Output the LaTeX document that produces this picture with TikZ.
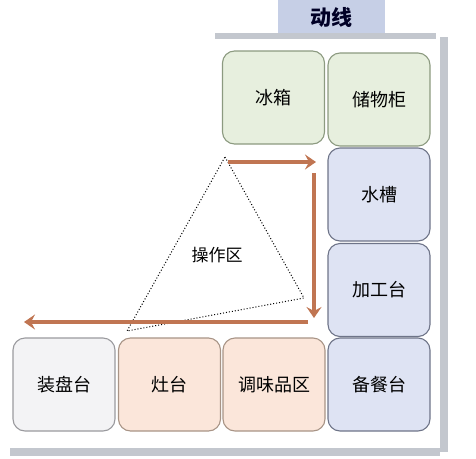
\documentclass[tikz,border=0pt]{standalone}
\usepackage{fontspec}
\newfontfamily\cjk{Noto Sans CJK SC}
\usetikzlibrary{arrows.meta}
\definecolor{greenfill}{HTML}{E7EFDE}
\definecolor{greenline}{HTML}{8C9A80}
\definecolor{bluefill}{HTML}{DEE3F3}
\definecolor{blueline}{HTML}{6E7488}
\definecolor{greyfill}{HTML}{F3F3F5}
\definecolor{greyline}{HTML}{9A9A9E}
\definecolor{peachfill}{HTML}{FBE6DA}
\definecolor{peachline}{HTML}{A89486}
\definecolor{titlefill}{HTML}{C6CFE6}
\definecolor{barcol}{HTML}{C3C7CE}
\definecolor{flowcol}{HTML}{C07552}
\tikzset{
  area/.style={rounded corners=12pt, minimum width=102pt, minimum height=93pt,
    line width=1.1pt, font=\cjk\fontsize{18}{18}\selectfont, inner sep=0pt},
  flow/.style={flowcol, line width=3.5pt, -{Stealth[length=11pt,width=15pt,inset=4pt]}}
}
\begin{document}
\begin{tikzpicture}[x=1pt, y=-1pt]
    \useasboundingbox (0,0) rectangle (476,458);
    % Title and frame
    \fill[titlefill] (278,0) rectangle (385,33);
    \node[font=\cjk\bfseries\fontsize{21}{21}\selectfont, text=black!75!blue!60!black] (title) at (331.5,17) {动线};
    \fill[barcol] (215,33) rectangle (436,39);
    \fill[barcol] (440,37) rectangle (448,452);
    \fill[barcol] (10,448) rectangle (440,456);

    % Areas
    \node[area, fill=greenfill, draw=greenline] (fridge) at (273.5,97.5) {冰箱};
    \node[area, fill=greenfill, draw=greenline] (cabinet) at (379,99.5) {储物柜};
    \node[area, fill=bluefill, draw=blueline] (sink) at (379,194.5) {水槽};
    \node[area, fill=bluefill, draw=blueline] (prep) at (379,290) {加工台};
    \node[area, fill=bluefill, draw=blueline] (serve) at (379,384.5) {备餐台};
    \node[area, fill=greyfill, draw=greyline] (plate) at (64,384.5) {装盘台};
    \node[area, fill=peachfill, draw=peachline] (stove) at (169.5,384.5) {灶台};
    \node[area, fill=peachfill, draw=peachline] (spice) at (274,384.5) {调味品区};

    % Work triangle
    \coordinate (t1) at (225,157); \coordinate (t2) at (304,298); \coordinate (t3) at (127,331);
    \draw[dotted, line width=1pt] (t1)--(t2)--(t3)--cycle;
    \node[font=\cjk\fontsize{17}{17}\selectfont] (work) at (217,255) {操作区};

    % Flow
    \coordinate (f1) at (228,162); \coordinate (f2) at (316,162);
    \coordinate (f3) at (314,173); \coordinate (f4) at (314,318);
    \coordinate (f5) at (308,322); \coordinate (f6) at (24,322);
    \draw[flow] (f1)--(f2);
    \draw[flow] (f3)--(f4);
    \draw[flow] (f5)--(f6);
\end{tikzpicture}
\end{document}
